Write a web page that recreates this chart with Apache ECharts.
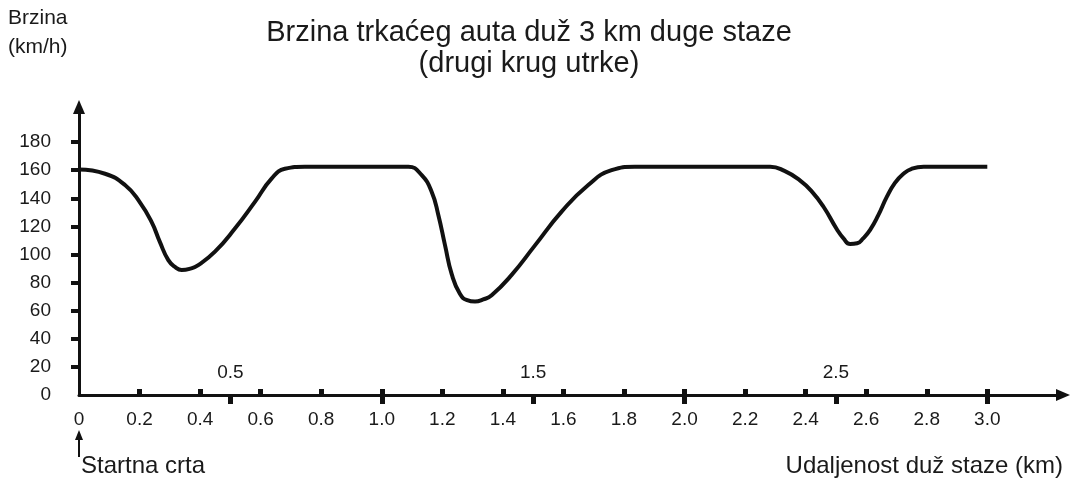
<!DOCTYPE html>
<html>
<head>
<meta charset="utf-8">
<script src="https://cdn.jsdelivr.net/npm/echarts@6.0.0/dist/echarts.min.js"></script>
<style>
html, body { margin: 0; padding: 0; background: #fff; }
#chart { width: 1073px; height: 482px; }
</style>
</head>
<body>
<div id="chart"></div>
<script>
// udaljenost duž staze (km)
const distance = [0, 0.086, 0.152, 0.2, 0.24, 0.267, 0.295, 0.318, 0.339, 0.365, 0.394, 0.449, 0.515, 0.581, 0.636, 0.68, 0.746,
    1.044, 1.088, 1.132, 1.165, 1.187, 1.209, 1.231, 1.258, 1.282, 1.308, 1.335, 1.363, 1.429, 1.506, 1.594, 1.682, 1.759, 1.836,
    2.283, 2.33, 2.38, 2.42, 2.459, 2.503, 2.525, 2.547, 2.57, 2.59, 2.613, 2.64, 2.668, 2.695, 2.723, 2.75, 2.79, 3.0]
// brzina (km/h)
const speed = [160.5, 157.5, 149.5, 137.5, 123, 109, 96, 91, 89, 89.8, 92.5, 102, 118.5, 137.5, 154, 161, 162.5,
    162.5, 162.5, 156.5, 144.5, 128, 106.5, 86, 72, 67.5, 66.5, 68, 71, 85.5, 106.5, 130.5, 149.5, 160, 162.5,
    162.5, 159.5, 153, 145, 134, 118, 111.5, 107.5, 108, 111.5, 117.5, 128, 141, 151, 157.5, 161, 162.5, 162.5]

const yTicks = [20, 40, 60, 80, 100, 120, 140, 160, 180]
const yLabels = [0, 20, 40, 60, 80, 100, 120, 140, 160, 180]
const xTicks = [0.2, 0.4, 0.6, 0.8, 1.0, 1.2, 1.4, 1.6, 1.8, 2.0, 2.2, 2.4, 2.6, 2.8, 3.0]
const xLabels = [0, 0.2, 0.4, 0.6, 0.8, 1.0, 1.2, 1.4, 1.6, 1.8, 2.0, 2.2, 2.4, 2.6, 2.8, 3.0]
const halfTicks = [0.5, 1.0, 1.5, 2.0, 2.5, 3.0]
const halfLabels = [0.5, 1.5, 2.5]

const font = "'Liberation Sans', Arial, sans-serif"
const ink = '#1a1a1a'

const chart = echarts.init(document.getElementById('chart'))
chart.setOption({
    animation: false,
    grid: {
        left: 79,
        right: 10,
        top: 107,
        bottom: 87,
        containLabel: false,
        outerBoundsMode: 'none'
    },
    xAxis: [
        {
            type: 'value',
            min: 0,
            max: 3.25,
            position: 'bottom',
            splitLine: { show: false },
            axisLine: {
                show: true,
                onZero: false,
                symbol: ['none', 'triangle'],
                symbolSize: [12, 14],
                lineStyle: { color: '#111', width: 3 }
            },
            axisTick: {
                show: true,
                inside: true,
                length: 6,
                customValues: xTicks,
                lineStyle: { color: '#111', width: 5 }
            },
            axisLabel: {
                customValues: xLabels,
                margin: 15,
                color: ink,
                fontFamily: font,
                fontSize: 19,
                formatter: (v) => v === 0 ? '0' : v.toFixed(1)
            }
        },
        {
            type: 'value',
            min: 0,
            max: 3.25,
            position: 'bottom',
            splitLine: { show: false },
            axisLine: { show: false, onZero: false },
            axisTick: {
                show: true,
                inside: false,
                length: 9,
                customValues: halfTicks,
                lineStyle: { color: '#111', width: 5 }
            },
            axisLabel: {
                inside: true,
                customValues: halfLabels,
                margin: 13,
                color: ink,
                fontFamily: font,
                fontSize: 19,
                formatter: (v) => v.toFixed(1)
            }
        }
    ],
    yAxis: {
        type: 'value',
        min: 0,
        max: 205,
        splitLine: { show: false },
        axisLine: {
            show: true,
            symbol: ['none', 'triangle'],
            symbolSize: [12, 14],
            lineStyle: { color: '#111', width: 3 }
        },
        axisTick: {
            show: true,
            length: 8,
            customValues: yTicks,
            lineStyle: { color: '#111', width: 4 }
        },
        axisLabel: {
            customValues: yLabels,
            margin: 28,
            color: ink,
            fontFamily: font,
            fontSize: 19
        }
    },
    graphic: [
        { type: 'text', x: 529, y: 33, style: { text: 'Brzina trkaćeg auta duž 3 km duge staze', fill: ink, font: '29px ' + font, textAlign: 'center', textVerticalAlign: 'middle' } },
        { type: 'text', x: 529, y: 64, style: { text: '(drugi krug utrke)', fill: ink, font: '29px ' + font, textAlign: 'center', textVerticalAlign: 'middle' } },
        { type: 'text', x: 8, y: 18, style: { text: 'Brzina', fill: ink, font: '21px ' + font, textAlign: 'left', textVerticalAlign: 'middle' } },
        { type: 'text', x: 8, y: 47, style: { text: '(km/h)', fill: ink, font: '21px ' + font, textAlign: 'left', textVerticalAlign: 'middle' } },
        { type: 'text', x: 81, y: 466, style: { text: 'Startna crta', fill: ink, font: '24px ' + font, textAlign: 'left', textVerticalAlign: 'middle' } },
        { type: 'text', x: 1063, y: 466, style: { text: 'Udaljenost duž staze (km)', fill: ink, font: '24px ' + font, textAlign: 'right', textVerticalAlign: 'middle' } },
        { type: 'line', shape: { x1: 79, y1: 457, x2: 79, y2: 436 }, style: { stroke: '#111', lineWidth: 2 } },
        { type: 'polygon', shape: { points: [[75, 440], [79, 430], [83, 440]] }, style: { fill: '#111' } }
    ],
    series: [
        {
            type: 'line',
            xAxisIndex: 0,
            yAxisIndex: 0,
            data: distance.map((d, i) => [d, speed[i]]),
            smooth: 0.5,
            showSymbol: false,
            silent: true,
            lineStyle: { color: '#111', width: 4 }
        }
    ]
})
</script>
</body>
</html>
